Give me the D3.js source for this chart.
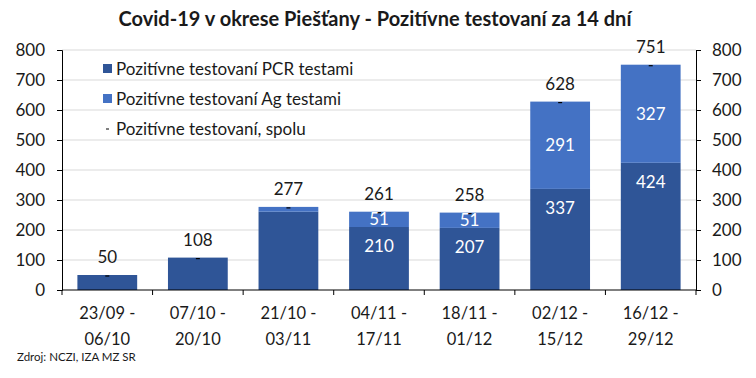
<!DOCTYPE html>
<html>
<head>
<meta charset="utf-8">
<script src="https://cdn.jsdelivr.net/npm/d3@7"></script>
<style>
  body { margin: 0; background: #fff; }
  svg { display: block; font-family: "Lato", "Open Sans", sans-serif; }
</style>
</head>
<body>
<svg id="chart" width="756" height="378"></svg>
<script>
// data
const categories = ["23/09 - 06/10", "07/10 - 20/10", "21/10 - 03/11", "04/11 - 17/11",
                    "18/11 - 01/12", "02/12 - 15/12", "16/12 - 29/12"];
const pcr_values = [50, 108, 261, 210, 207, 337, 424];
const ag_values = [0, 0, 16, 51, 51, 291, 327];
const total_values = [50, 108, 277, 261, 258, 628, 751];
// which bars show the inner labels
const show_inner = [false, false, false, true, true, true, true];
const y_ticks = [0, 100, 200, 300, 400, 500, 600, 700, 800];

const legend_labels = ["Pozitívne testovaní PCR testami", "Pozitívne testovaní Ag testami", "Pozitívne testovaní, spolu"];

// colors
let dark_blue = "#2f5597";
let light_blue = "#4472c4";
let grid_gray = "#d9d9d9";
let text_col = "#1a1a1a";

const svg = d3.select("#chart");

let dimensions = {
    width: 756,
    height: 378,
    margins: { top: 50, right: 60, bottom: 88, left: 62 },
};
dimensions.boundedWidth = dimensions.width - dimensions.margins.left - dimensions.margins.right;
dimensions.boundedHeight = dimensions.height - dimensions.margins.top - dimensions.margins.bottom;

const xScale = d3.scaleBand()
    .domain(categories)
    .range([0, dimensions.boundedWidth])
    .paddingInner(0.34)
    .paddingOuter(0.17);

const yScale = d3.scaleLinear()
    .domain([0, 800])
    .range([dimensions.boundedHeight, 0]);

const box = svg.append("g")
    .attr("transform", `translate(${dimensions.margins.left},${dimensions.margins.top})`);

// title
svg.append("text")
    .attr("x", 375)
    .attr("y", 26)
    .attr("text-anchor", "middle")
    .style("font-weight", "bold")
    .style("font-size", "20px")
    .attr("fill", text_col)
    .text("Covid-19 v okrese Piešťany - Pozitívne testovaní za 14 dní");

// gridlines
box.append("g")
    .selectAll("line")
    .data(y_ticks.filter(d => d > 0))
    .join("line")
    .attr("x1", 0)
    .attr("x2", dimensions.boundedWidth)
    .attr("y1", d => yScale(d))
    .attr("y2", d => yScale(d))
    .attr("stroke", grid_gray)
    .attr("stroke-width", 1);

// stacked bars
const rows = categories.map((c, i) => ({
    cat: c, pcr: pcr_values[i], ag: ag_values[i], total: total_values[i], inner: show_inner[i]
}));
const stacked = d3.stack().keys(["pcr", "ag"])(rows);
const colors = { pcr: dark_blue, ag: light_blue };
const cx = d => xScale(d.cat) + xScale.bandwidth() / 2;

box.append("g")
    .selectAll("g")
    .data(stacked)
    .join("g")
    .attr("fill", d => colors[d.key])
    .selectAll("rect")
    .data(d => d)
    .join("rect")
    .attr("x", d => xScale(d.data.cat))
    .attr("width", xScale.bandwidth())
    .attr("y", d => yScale(d[1]))
    .attr("height", d => yScale(d[0]) - yScale(d[1]));

// total markers (small dash)
box.append("g")
    .selectAll("line")
    .data(rows)
    .join("line")
    .attr("x1", d => cx(d) - 2)
    .attr("x2", d => cx(d) + 2)
    .attr("y1", d => yScale(d.total) + 1)
    .attr("y2", d => yScale(d.total) + 1)
    .attr("stroke", "#000")
    .attr("stroke-width", 1.2);

// total labels
box.append("g")
    .selectAll("text")
    .data(rows)
    .join("text")
    .attr("x", cx)
    .attr("y", d => yScale(d.total) - 12)
    .attr("text-anchor", "middle")
    .style("font-size", "17px")
    .attr("fill", text_col)
    .text(d => d.total);

const inner_rows = rows.filter(d => d.inner);

// PCR labels (inside end)
box.append("g")
    .selectAll("text")
    .data(inner_rows)
    .join("text")
    .attr("x", cx)
    .attr("y", d => yScale(d.pcr) + 25)
    .attr("text-anchor", "middle")
    .style("font-size", "17px")
    .attr("fill", "#fff")
    .text(d => d.pcr);

// Ag labels (center)
box.append("g")
    .selectAll("text")
    .data(inner_rows)
    .join("text")
    .attr("x", cx)
    .attr("y", d => yScale(d.pcr + d.ag / 2) + 6)
    .attr("text-anchor", "middle")
    .style("font-size", "17px")
    .attr("fill", "#fff")
    .text(d => d.ag);

// axes
const yAxisLeft = d3.axisLeft(yScale).tickValues(y_ticks).tickSize(5).tickPadding(12);
const yAxisRight = d3.axisRight(yScale).tickValues(y_ticks).tickSize(5).tickPadding(11);

const gl = box.append("g").call(yAxisLeft);
const gr = box.append("g")
    .attr("transform", `translate(${dimensions.boundedWidth},0)`)
    .call(yAxisRight);

[gl, gr].forEach(g => {
    g.select(".domain").attr("stroke", "#000");
    g.selectAll(".tick line").attr("stroke", "#000");
    g.selectAll(".tick text")
        .style("font-size", "17px")
        .style("font-family", "Lato, sans-serif")
        .attr("fill", text_col);
});

// x axis
const xg = box.append("g").attr("transform", `translate(0,${dimensions.boundedHeight})`);
xg.append("line")
    .attr("x1", 0).attr("x2", dimensions.boundedWidth)
    .attr("stroke", "#000");
const step = xScale.step();
const edges = d3.range(categories.length + 1).map(i => xScale(categories[0]) - xScale.paddingInner() * step / 2 + i * step);
xg.selectAll("line.tk")
    .data(edges)
    .join("line")
    .attr("class", "tk")
    .attr("x1", d => d).attr("x2", d => d)
    .attr("y1", 0).attr("y2", 5)
    .attr("stroke", "#000");

const xlab = xg.selectAll("text")
    .data(categories)
    .join("text")
    .attr("text-anchor", "middle")
    .style("font-size", "16.5px")
    .attr("fill", text_col);
xlab.append("tspan")
    .attr("x", d => xScale(d) + xScale.bandwidth() / 2)
    .attr("y", 29)
    .text(d => d.split(" - ")[0] + " -");
xlab.append("tspan")
    .attr("x", d => xScale(d) + xScale.bandwidth() / 2)
    .attr("y", 55)
    .text(d => d.split(" - ")[1]);

// legend
const legend = svg.append("g").attr("transform", "translate(103,0)");
const legend_y = [69, 99, 129];
legend_labels.forEach((lab, i) => {
    if (i < 2) {
        legend.append("rect")
            .attr("x", 0).attr("y", legend_y[i] - 5)
            .attr("width", 9).attr("height", 9)
            .attr("fill", i === 0 ? dark_blue : light_blue);
    } else {
        legend.append("line")
            .attr("x1", 3).attr("x2", 6)
            .attr("y1", legend_y[i]).attr("y2", legend_y[i])
            .attr("stroke", "#000");
    }
    legend.append("text")
        .attr("x", 13)
        .attr("y", legend_y[i] + 6)
        .style("font-size", "17px")
        .attr("fill", text_col)
        .text(lab);
});

// source
svg.append("text")
    .attr("x", 17)
    .attr("y", 361)
    .style("font-size", "11.5px")
    .attr("fill", text_col)
    .text("Zdroj: NCZI, IZA MZ SR");
</script>
</body>
</html>
